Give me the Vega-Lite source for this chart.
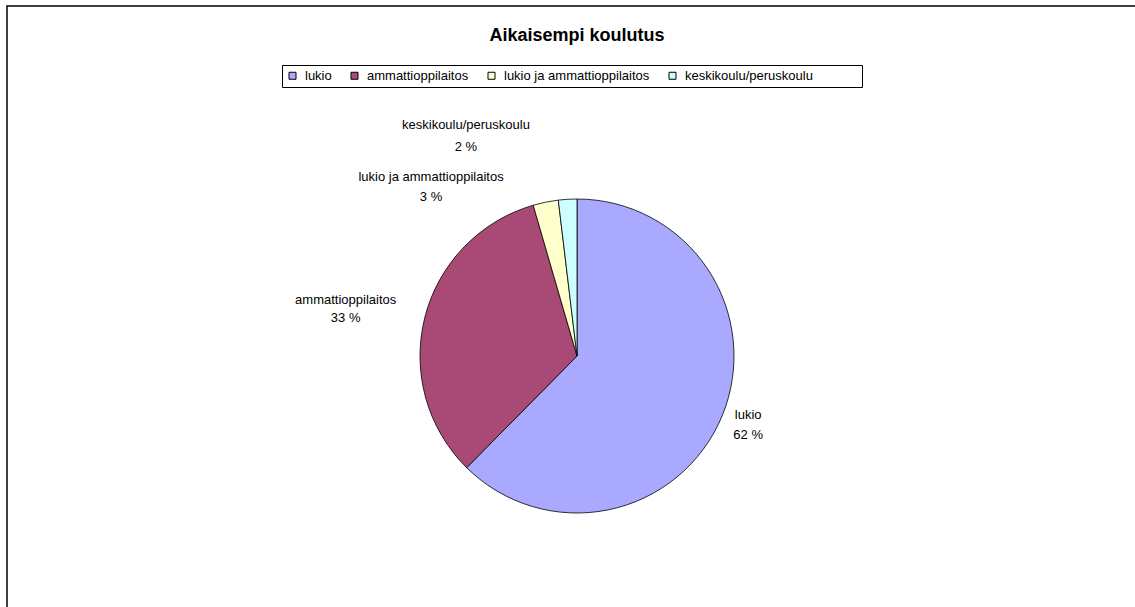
{
  "$schema": "https://vega.github.io/schema/vega-lite/v6.json",
  "width": 1140,
  "height": 700,
  "autosize": {"type": "none"},
  "padding": {"left": 7, "top": 6, "right": 0, "bottom": 0},
  "background": "white",
  "view": {"stroke": "black", "strokeWidth": 1.5, "fill": "white"},
  "title": {"text": "Aikaisempi koulutus", "font": "Liberation Sans", "fontSize": 18, "fontWeight": "bold", "color": "black", "anchor": "middle", "frame": "group", "offset": -39},
  "data": {"values": [
    {"koulutus": "lukio", "osuus": 62.4, "label": "lukio\n62 %", "i": 1},
    {"koulutus": "ammattioppilaitos", "osuus": 33.1, "label": "ammattioppilaitos\n33 %", "i": 2},
    {"koulutus": "lukio ja ammattioppilaitos", "osuus": 2.6, "label": "lukio ja ammattioppilaitos\n3 %", "i": 3},
    {"koulutus": "keskikoulu/peruskoulu", "osuus": 1.9, "label": "keskikoulu/peruskoulu\n2 %", "i": 4}
  ]},
  "encoding": {
    "theta": {"field": "osuus", "type": "quantitative", "stack": true},
    "order": {"field": "i", "type": "quantitative"}
  },
  "layer": [
    {
      "mark": {"type": "arc", "outerRadius": 157, "stroke": "black", "strokeWidth": 0.8, "opacity": 1},
      "encoding": {
        "color": {
          "field": "koulutus", "type": "nominal",
          "scale": {"domain": ["lukio", "ammattioppilaitos", "lukio ja ammattioppilaitos", "keskikoulu/peruskoulu"], "range": ["#A9A9FF", "#A94A76", "#FFFFCC", "#CCFFFF"]},
          "legend": {"orient": "none", "legendX": 275, "legendY": 59, "direction": "horizontal", "title": " ", "titleOrient": "right", "titlePadding": 45, "titleFontSize": 13, "symbolType": "square", "symbolSize": 49, "symbolStrokeColor": "black", "symbolStrokeWidth": 1, "symbolOpacity": 1, "labelFont": "Liberation Sans", "labelFontSize": 13, "labelColor": "black", "strokeColor": "black", "fillColor": "white", "padding": 4, "columnPadding": 16, "labelOffset": 6}
        }
      }
    },
    {
      "mark": {"type": "text", "radius": 185, "dx": 0, "dy": -11, "lineBreak": "\n", "lineHeight": 20, "font": "Liberation Sans", "fontSize": 13, "fill": "black", "align": "center", "baseline": "middle"},
      "encoding": {"text": {"condition": {"test": "datum.koulutus === 'lukio'", "field": "label"}, "value": ""}}
    },
    {
      "mark": {"type": "text", "radius": 185, "dx": -52, "dy": -11, "lineBreak": "\n", "lineHeight": 18, "font": "Liberation Sans", "fontSize": 13, "fill": "black", "align": "center", "baseline": "middle"},
      "encoding": {"text": {"condition": {"test": "datum.koulutus === 'ammattioppilaitos'", "field": "label"}, "value": ""}}
    },
    {
      "mark": {"type": "text", "radius": 185, "dx": -109, "dy": 2, "lineBreak": "\n", "lineHeight": 20, "font": "Liberation Sans", "fontSize": 13, "fill": "black", "align": "center", "baseline": "middle"},
      "encoding": {"text": {"condition": {"test": "datum.koulutus === 'lukio ja ammattioppilaitos'", "field": "label"}, "value": ""}}
    },
    {
      "mark": {"type": "text", "radius": 185, "dx": -100, "dy": -46, "lineBreak": "\n", "lineHeight": 22, "font": "Liberation Sans", "fontSize": 13, "fill": "black", "align": "center", "baseline": "middle"},
      "encoding": {"text": {"condition": {"test": "datum.koulutus === 'keskikoulu/peruskoulu'", "field": "label"}, "value": ""}}
    }
  ]
}
